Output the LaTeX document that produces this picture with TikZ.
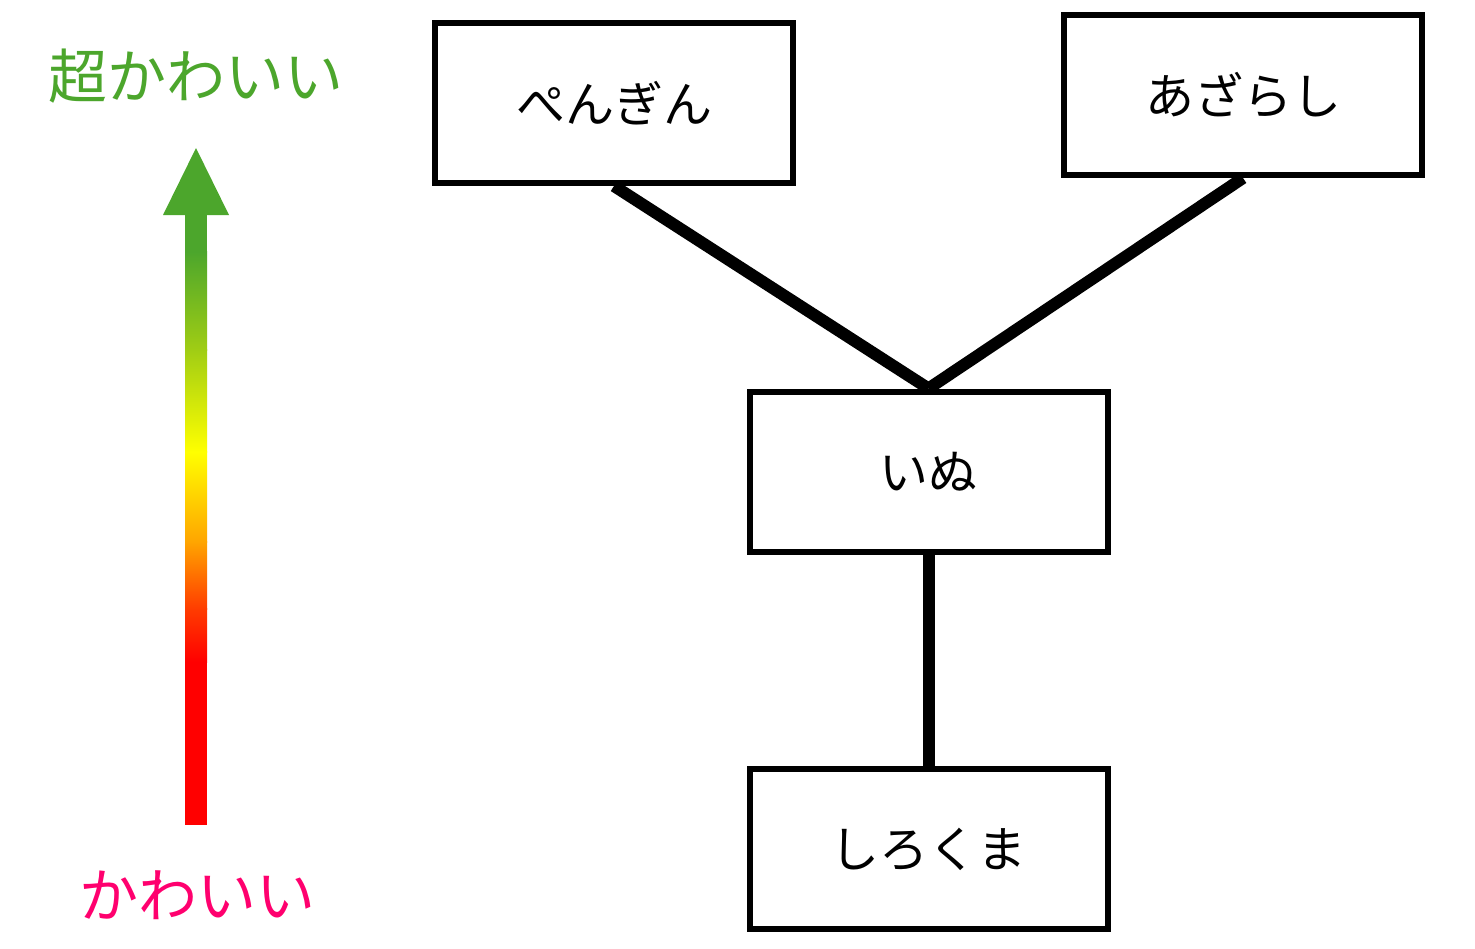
\documentclass[tikz,border=0pt]{standalone}
\usepackage{fontspec}
\newfontfamily\jp{Noto Sans CJK JP}
\definecolor{cutegreen}{RGB}{76,166,44}
\definecolor{cutepink}{RGB}{255,0,110}
\definecolor{gOrangeRed}{RGB}{255,60,0}
\definecolor{gOrange}{RGB}{255,165,0}
\definecolor{gYellow}{RGB}{255,255,0}
\definecolor{gYGreen}{RGB}{160,205,20}
\tikzset{
  animalbox/.style={draw=black, line width=6pt, minimum width=358pt, minimum height=160pt,
    inner sep=0pt, font=\jp\fontsize{49}{52}\selectfont},
  link/.style={line width=12pt, draw=black},
  scalelabel/.style={font=\jp\fontsize{59}{62}\selectfont, inner sep=0pt},
}
\begin{document}
\begin{tikzpicture}[x=1pt,y=-1pt]
\useasboundingbox (0,0) rectangle (1475,948);
\fill[white] (0,0) rectangle (1475,948);
% scale arrow
\fill[red] (185,825) rectangle (207,661.5);
\shade[bottom color=red, top color=gOrangeRed] (185,662) rectangle (207,608.5);
\shade[bottom color=gOrangeRed, top color=gOrange] (185,609) rectangle (207,541.5);
\shade[bottom color=gOrange, top color=gYellow] (185,542) rectangle (207,451.5);
\shade[bottom color=gYellow, top color=gYGreen] (185,452) rectangle (207,349.5);
\shade[bottom color=gYGreen, top color=cutegreen] (185,350) rectangle (207,251.5);
\fill[cutegreen] (185,252) rectangle (207,214);
\fill[cutegreen] (163,215) -- (229,215) -- (196,148) -- cycle;
\node[scalelabel, text=cutegreen] (top) at (196,76) {超かわいい};
\node[scalelabel, text=cutepink] (bottom) at (197,895) {かわいい};
% boxes
\node[animalbox] (penguin) at (614,103) {\raisebox{-4pt}{ぺんぎん}};
\node[animalbox] (seal) at (1243,95) {\raisebox{-2pt}{あざらし}};
\node[animalbox] (dog) at (928.5,471.5) {\raisebox{-4pt}{いぬ}};
\node[animalbox] (polar) at (928.5,849) {\raisebox{-4pt}{しろくま}};
% links
\draw[link] (penguin.south) -- (dog.north);
\draw[link] (seal.south) -- (dog.north);
\draw[link] (dog.south) -- (polar.north);
\end{tikzpicture}
\end{document}
